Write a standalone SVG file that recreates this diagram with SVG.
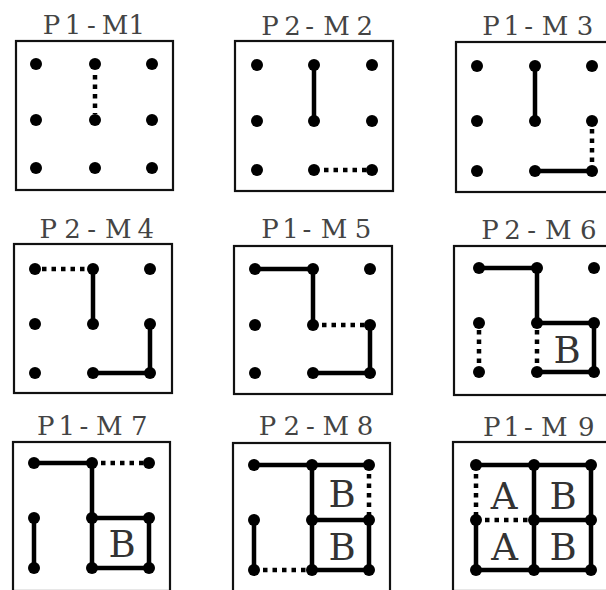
<svg xmlns="http://www.w3.org/2000/svg" width="606" height="590" viewBox="0 0 606 590">
<style>
.bg{fill:#fff}
.box{fill:none;stroke:#111;stroke-width:2.2}
.dot{fill:#000}
.ln{fill:none;stroke:#000;stroke-width:4.5;stroke-linejoin:miter}
.dt{fill:none;stroke:#000;stroke-width:4.5;stroke-dasharray:4.5 5}
.ttl{font-family:"DejaVu Serif",serif;font-size:26px;fill:#444;text-anchor:middle}
.lt{font-family:"DejaVu Serif",serif;font-size:37px;fill:#333;text-anchor:middle}
</style>
<rect class="bg" x="0" y="0" width="606" height="590"/>

<g id="p1-m1">
<text class="ttl" x="51.5 73 91.5 115 136.7" y="34">P1-M1</text>
<rect class="box" x="16" y="41" width="157" height="149"/>
<g class="dots">
<circle class="dot" cx="36" cy="64" r="6"/><circle class="dot" cx="95" cy="64" r="6"/><circle class="dot" cx="152" cy="64" r="6"/>
<circle class="dot" cx="36" cy="120" r="6"/><circle class="dot" cx="95" cy="120" r="6"/><circle class="dot" cx="152" cy="120" r="6"/>
<circle class="dot" cx="36" cy="168" r="6"/><circle class="dot" cx="95" cy="168" r="6"/><circle class="dot" cx="152" cy="168" r="6"/>
</g>
</g>

<g id="p2-m2">
<text class="ttl" x="270 292.5 309.7 336.5 364.7" y="35">P2-M2</text>
<rect class="box" x="235" y="41" width="158" height="150"/>
<g class="dots">
<circle class="dot" cx="257" cy="65" r="6"/><circle class="dot" cx="314" cy="65" r="6"/><circle class="dot" cx="372" cy="65" r="6"/>
<circle class="dot" cx="257" cy="121" r="6"/><circle class="dot" cx="314" cy="121" r="6"/><circle class="dot" cx="372" cy="121" r="6"/>
<circle class="dot" cx="257" cy="170" r="6"/><circle class="dot" cx="314" cy="170" r="6"/><circle class="dot" cx="372" cy="170" r="6"/>
</g>
</g>

<g id="p1-m3">
<text class="ttl" x="491 511.7 528.7 555 585" y="35">P1-M3</text>
<rect class="box" x="456" y="42" width="158" height="150"/>
<g class="dots">
<circle class="dot" cx="477" cy="66" r="6"/><circle class="dot" cx="535" cy="66" r="6"/><circle class="dot" cx="592" cy="66" r="6"/>
<circle class="dot" cx="477" cy="121" r="6"/><circle class="dot" cx="535" cy="121" r="6"/><circle class="dot" cx="592" cy="121" r="6"/>
<circle class="dot" cx="477" cy="171" r="6"/><circle class="dot" cx="535" cy="171" r="6"/><circle class="dot" cx="592" cy="171" r="6"/>
</g>
</g>

<g id="p2-m4">
<text class="ttl" x="48.3 72.5 91.7 118.3 145.8" y="238">P2-M4</text>
<rect class="box" x="14" y="244" width="158" height="149"/>
<g class="dots">
<circle class="dot" cx="35" cy="269" r="6"/><circle class="dot" cx="93" cy="269" r="6"/><circle class="dot" cx="150" cy="269" r="6"/>
<circle class="dot" cx="35" cy="324" r="6"/><circle class="dot" cx="93" cy="324" r="6"/><circle class="dot" cx="150" cy="324" r="6"/>
<circle class="dot" cx="35" cy="373" r="6"/><circle class="dot" cx="93" cy="373" r="6"/><circle class="dot" cx="150" cy="373" r="6"/>
</g>
</g>

<g id="p1-m5">
<text class="ttl" x="270 290.5 307 334 363" y="238">P1-M5</text>
<rect class="box" x="234" y="246" width="158" height="148"/>
<g class="dots">
<circle class="dot" cx="255" cy="269" r="6"/><circle class="dot" cx="313" cy="269" r="6"/><circle class="dot" cx="370" cy="269" r="6"/>
<circle class="dot" cx="255" cy="325" r="6"/><circle class="dot" cx="313" cy="325" r="6"/><circle class="dot" cx="370" cy="325" r="6"/>
<circle class="dot" cx="255" cy="373" r="6"/><circle class="dot" cx="313" cy="373" r="6"/><circle class="dot" cx="370" cy="373" r="6"/>
</g>
</g>

<g id="p2-m6">
<text class="ttl" x="490 512.5 531.7 558.3 588.3" y="239">P2-M6</text>
<rect class="box" x="454" y="246" width="158" height="149"/>
<text class="lt" x="567" y="363">B</text>
<g class="dots">
<circle class="dot" cx="479" cy="268" r="6"/><circle class="dot" cx="537" cy="268" r="6"/><circle class="dot" cx="594" cy="268" r="6"/>
<circle class="dot" cx="479" cy="323" r="6"/><circle class="dot" cx="537" cy="323" r="6"/><circle class="dot" cx="594" cy="323" r="6"/>
<circle class="dot" cx="479" cy="372" r="6"/><circle class="dot" cx="537" cy="372" r="6"/><circle class="dot" cx="594" cy="372" r="6"/>
</g>
</g>

<g id="p1-m7">
<text class="ttl" x="45.8 66.7 83.8 109.2 139.2" y="435">P1-M7</text>
<rect class="box" x="13" y="442" width="157" height="149"/>
<text class="lt" x="122" y="557">B</text>
<g class="dots">
<circle class="dot" cx="34" cy="463" r="6"/><circle class="dot" cx="92" cy="463" r="6"/><circle class="dot" cx="149" cy="463" r="6"/>
<circle class="dot" cx="34" cy="518" r="6"/><circle class="dot" cx="92" cy="518" r="6"/><circle class="dot" cx="149" cy="518" r="6"/>
<circle class="dot" cx="34" cy="568" r="6"/><circle class="dot" cx="92" cy="568" r="6"/><circle class="dot" cx="149" cy="568" r="6"/>
</g>
</g>

<g id="p2-m8">
<text class="ttl" x="267.5 291.7 310.5 335.8 365" y="435">P2-M8</text>
<rect class="box" x="233" y="443" width="157" height="149"/>
<text class="lt" x="342" y="507">B</text>
<text class="lt" x="342" y="560">B</text>
<g class="dots">
<circle class="dot" cx="254" cy="465" r="6"/><circle class="dot" cx="312" cy="465" r="6"/><circle class="dot" cx="369" cy="465" r="6"/>
<circle class="dot" cx="254" cy="520" r="6"/><circle class="dot" cx="312" cy="520" r="6"/><circle class="dot" cx="369" cy="520" r="6"/>
<circle class="dot" cx="254" cy="570" r="6"/><circle class="dot" cx="312" cy="570" r="6"/><circle class="dot" cx="369" cy="570" r="6"/>
</g>
</g>

<g id="p1-m9">
<text class="ttl" x="491.7 511.7 528.3 554.2 586.3" y="435.5">P1-M9</text>
<rect class="box" x="453" y="442" width="158" height="149"/>
<text class="lt" x="504" y="509">A</text>
<text class="lt" x="563" y="509">B</text>
<text class="lt" x="504.5" y="560">A</text>
<text class="lt" x="563" y="560">B</text>
<g class="dots">
<circle class="dot" cx="476" cy="465" r="6"/><circle class="dot" cx="534" cy="465" r="6"/><circle class="dot" cx="591" cy="465" r="6"/>
<circle class="dot" cx="476" cy="520" r="6"/><circle class="dot" cx="534" cy="520" r="6"/><circle class="dot" cx="591" cy="520" r="6"/>
<circle class="dot" cx="476" cy="570" r="6"/><circle class="dot" cx="534" cy="570" r="6"/><circle class="dot" cx="591" cy="570" r="6"/>
</g>
</g>

<g id="connectors">
<path class="dt" d="M95 75V114"/>

<path class="ln" d="M314 65V121"/>
<path class="dt" d="M324 170H367"/>

<path class="ln" d="M535 66V121M535 171H592"/>
<path class="dt" d="M592 129V166"/>

<path class="dt" d="M42 269H88"/>
<path class="ln" d="M93 269V324M93 373H150V324"/>

<path class="ln" d="M255 269H313V325M313 373H370V325"/>
<path class="dt" d="M322 325H365"/>

<path class="ln" d="M479 268H537V323H594V372H537"/>
<path class="dt" d="M479 330V367M537 330V367"/>

<path class="ln" d="M34 463H92V518H149V568H92V518M34 518V568"/>
<path class="dt" d="M101 463H144"/>

<path class="ln" d="M254 465H369M312 465V570H369V520H312M254 520V570"/>
<path class="dt" d="M369 474V515M263 570H307"/>

<path class="ln" d="M476 465H591V570H476V520M534 465V570M534 520H591"/>
<path class="dt" d="M476 474V515M485 520H529"/>
</g>
</svg>
